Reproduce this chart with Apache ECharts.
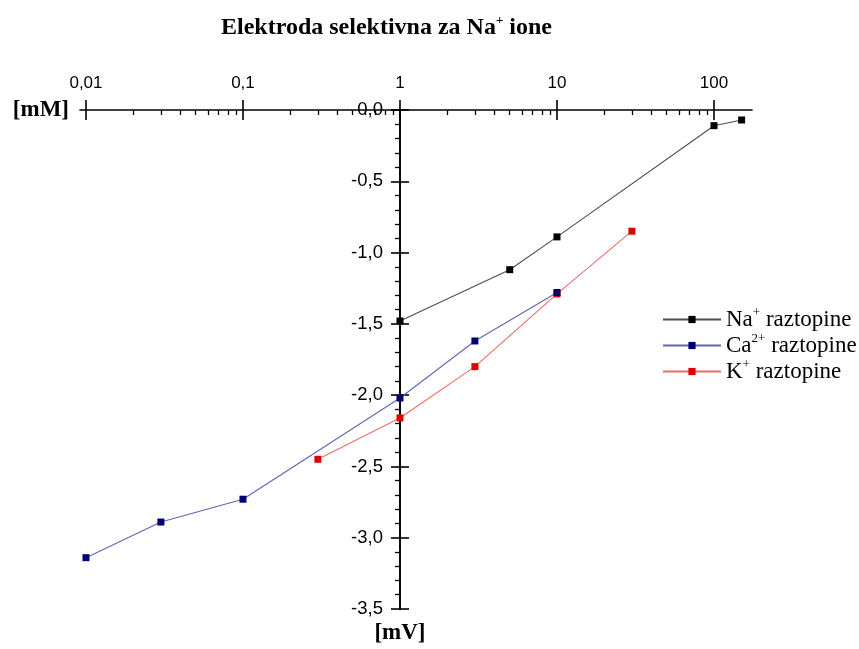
<!DOCTYPE html>
<html>
<head>
<meta charset="utf-8">
<script src="https://cdn.jsdelivr.net/npm/echarts@6/dist/echarts.min.js"></script>
<style>html,body{margin:0;padding:0;background:#fff;}#c{width:859px;height:649px;}</style>
</head>
<body>
<div id="c"></div>
<script>
// ---- data ----
const naConc = [1, 5, 10, 100, 150];
const naMV   = [-1.48, -1.12, -0.89, -0.11, -0.07];
const caConc = [0.01, 0.03, 0.1, 1, 3, 10];
const caMV   = [-3.14, -2.89, -2.73, -2.02, -1.62, -1.28];
const kConc  = [0.3, 1, 3, 10, 30];
const kMV    = [-2.45, -2.16, -1.80, -1.29, -0.85];

const ions    = ['Na', 'Ca', 'K'];
const charges = ['+', '2+', '+'];
const seriesNames = ['Na⁺ raztopine', 'Ca²⁺ raztopine', 'K⁺ raztopine'];

const xMajorTicks = [0.01, 0.1, 1, 10, 100];
const xMajorLabels = ['0,01', '0,1', '1', '10', '100'];
const xMinorMultipliers = [2, 3, 4, 5, 6, 7, 8, 9];
const xMin = 0.00916, xMax = 174.6;
const yMin = -3.5, yMax = 0, yStep = 0.5;
const yAxisCrossAt = 1;   // y axis drawn where concentration = 1 mM

// ---- build ----
const lg = v => Math.log10(v);
const majorLog = xMajorTicks.map(lg);
const minorLog = [];
xMajorTicks.slice(0, 4).forEach(d => xMinorMultipliers.forEach(m => minorLog.push(lg(d * m))));
const zip = (a, b) => a.map((v, i) => [v, b[i]]);

const serif = 'Liberation Serif';
const sans = 'Liberation Sans';
const richSup = {
  b: { fontFamily: serif, fontSize: 23, color: '#000', lineHeight: 27 },
  s: { fontFamily: serif, fontSize: 13, color: '#000', verticalAlign: 'top' },
  tb: { fontFamily: serif, fontSize: 24, fontWeight: 'bold', color: '#000', lineHeight: 27 },
  ts: { fontFamily: serif, fontSize: 13, fontWeight: 'bold', color: '#000', verticalAlign: 'top' }
};

const gridLeft = 80;
const axisBlack = { color: '#000', width: 1.6 };
const baseValX = (extra) => Object.assign({
  type: 'value', position: 'top', min: lg(xMin), max: lg(xMax),
  axisLine: { show: false, onZero: false },
  splitLine: { show: false },
  axisLabel: { show: false },
  axisTick: { show: false }
}, extra);

const chart = echarts.init(document.getElementById('c'), null, { renderer: 'canvas' });
const option = {
  backgroundColor: '#fff',
  animation: false,
  title: {
    text: '{tb|Elektroda selektivna za Na}{ts|+}{tb| ione}',
    left: 216, top: 9,
    textStyle: { rich: richSup }
  },
  legend: {
    orient: 'vertical', left: 657, top: 301,
    itemWidth: 58, itemHeight: 9, itemGap: 1,
    data: seriesNames,
    formatter: name => {
      const i = seriesNames.indexOf(name);
      return '{b|' + ions[i] + '}{s|' + charges[i] + '}{b| raztopine}';
    },
    textStyle: { rich: richSup, fontFamily: serif, fontSize: 23 }
  },
  grid: { left: gridLeft, right: 107, top: 110, bottom: 40, containLabel: false, outerBoundsMode: 'none' },
  xAxis: [
    {
      type: 'log', position: 'top', min: xMin, max: xMax, logBase: 10,
      name: '[mM]', nameLocation: 'start', nameGap: 11,
      nameTextStyle: { fontFamily: serif, fontSize: 23, fontWeight: 'bold', color: '#000' },
      axisLine: { show: true, onZero: false, lineStyle: axisBlack },
      axisTick: { show: false }, axisLabel: { show: false },
      splitLine: { show: false }, minorTick: { show: false }
    },
    baseValX({
      axisTick: { show: true, inside: false, length: 10, customValues: majorLog, lineStyle: axisBlack },
      axisLabel: {
        show: true, customValues: majorLog, margin: 18,
        fontFamily: sans, fontSize: 17, color: '#000',
        formatter: v => xMajorLabels[majorLog.findIndex(t => Math.abs(t - v) < 1e-6)]
      }
    }),
    baseValX({
      axisTick: { show: true, inside: true, length: 10, customValues: majorLog, lineStyle: axisBlack }
    }),
    baseValX({
      axisTick: { show: true, inside: true, length: 5, customValues: minorLog, lineStyle: { color: '#000', width: 1.3 } }
    })
  ],
  yAxis: [
    {
      type: 'value', min: yMin, max: yMax, interval: yStep, position: 'left', offset: 0,
      name: '[mV]', nameLocation: 'start', nameGap: 13,
      nameTextStyle: { fontFamily: serif, fontSize: 23, fontWeight: 'bold', color: '#000' },
      axisLine: { show: true, onZero: false, lineStyle: axisBlack },
      axisTick: { show: true, inside: false, length: 9, lineStyle: axisBlack },
      minorTick: { show: true, splitNumber: 5, length: 5, lineStyle: { color: '#000', width: 1.3 } },
      axisLabel: {
        margin: 17, fontFamily: sans, fontSize: 18.5, color: '#000',
        formatter: v => (Math.abs(v) < 1e-9 ? 0 : v).toFixed(1).replace('.', ',')
      },
      splitLine: { show: false }
    },
    {
      type: 'value', min: yMin, max: yMax, interval: yStep, position: 'right', offset: 0,
      axisLine: { show: true, onZero: false, lineStyle: axisBlack },
      axisTick: { show: true, inside: false, length: 9, lineStyle: axisBlack },
      axisLabel: { show: false },
      splitLine: { show: false }
    }
  ],
  series: [
    {
      name: seriesNames[0], type: 'line', xAxisIndex: 0, yAxisIndex: 0, z: 3,
      data: zip(naConc, naMV), symbol: 'rect', symbolSize: 7,
      lineStyle: { color: '#4d4d4d', width: 1.1 }, itemStyle: { color: '#000' }
    },
    {
      name: seriesNames[1], type: 'line', xAxisIndex: 0, yAxisIndex: 0, z: 3,
      data: zip(caConc, caMV), symbol: 'rect', symbolSize: 7,
      lineStyle: { color: '#6464b4', width: 1.1 }, itemStyle: { color: '#000070' }
    },
    {
      name: seriesNames[2], type: 'line', xAxisIndex: 0, yAxisIndex: 0, z: 2,
      data: zip(kConc, kMV), symbol: 'rect', symbolSize: 7,
      lineStyle: { color: '#f06a6a', width: 1.1 }, itemStyle: { color: '#e00000' }
    }
  ]
};
chart.setOption(option);
// place the y axis where x = 1 using the log axis' own scale
const crossPx = chart.convertToPixel({ xAxisIndex: 0 }, yAxisCrossAt);
const leftPx = chart.convertToPixel({ xAxisIndex: 0 }, xMin);
const rightPx = chart.convertToPixel({ xAxisIndex: 0 }, xMax);
chart.setOption({ yAxis: [{ offset: -(crossPx - leftPx) }, { offset: -(rightPx - crossPx) }] });
</script>
</body>
</html>
